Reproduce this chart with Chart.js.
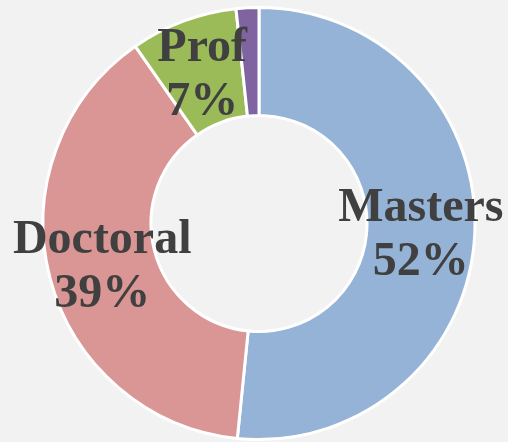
<!DOCTYPE html>
<html>
<head>
<meta charset="utf-8">
<script src="https://cdn.jsdelivr.net/npm/chart.js@4/dist/chart.umd.min.js"></script>
<style>
  html, body { margin: 0; padding: 0; background: #f2f2f2; }
  #wrap { width: 508px; height: 442px; }
</style>
</head>
<body>
<div id="wrap"><canvas id="chart"></canvas></div>
<script>
// ===============================
// Dados
// ===============================
const categories = ["Masters", "Doctoral", "Prof", "Other"];
const shares = [51.6, 38.7, 8.0, 1.7];
const pctLabels = ["52%", "39%", "7%", ""];
const colors = ["#95b3d7", "#d99694", "#9bbb59", "#8064a2"];

// rótulos de duas linhas no centro de cada fatia
const sliceLabels = {
  id: "sliceLabels",
  afterDatasetsDraw(chart) {
    const ctx = chart.ctx;
    const arcs = chart.getDatasetMeta(0).data;
    ctx.save();
    ctx.fillStyle = "#404040";
    ctx.font = "bold 48px 'Liberation Serif', 'Times New Roman', serif";
    ctx.textAlign = "center";
    ctx.textBaseline = "alphabetic";
    arcs.forEach((arc, i) => {
      if (!pctLabels[i]) return;
      const p = arc.tooltipPosition();
      ctx.fillText(categories[i], p.x, p.y - 11);
      ctx.fillText(pctLabels[i], p.x, p.y + 43);
    });
    ctx.restore();
  }
};

new Chart(document.getElementById("chart").getContext("2d"), {
  type: "doughnut",
  data: {
    labels: categories,
    datasets: [{
      data: shares,
      backgroundColor: colors,
      borderColor: "#ffffff",
      borderWidth: 3
    }]
  },
  options: {
    responsive: true,
    maintainAspectRatio: false,
    animation: false,
    cutout: "50%",
    layout: { padding: { top: 6, bottom: 1, left: 10, right: 0 } },
    plugins: {
      legend: { display: false },
      tooltip: { enabled: false }
    }
  },
  plugins: [sliceLabels]
});
</script>
</body>
</html>
